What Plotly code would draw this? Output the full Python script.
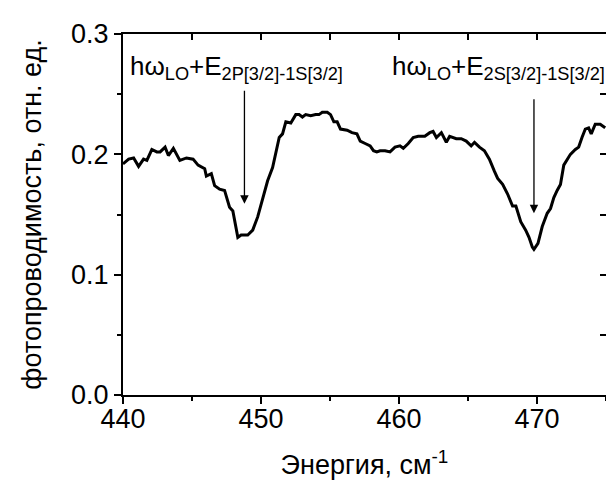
import plotly.graph_objects as go

energy = [440.00, 440.41, 440.77, 441.13, 441.49, 441.73, 442.09, 442.45, 442.69, 443.05,
          443.29, 443.65, 444.12, 444.60, 445.08, 445.44, 445.92, 446.04, 446.40, 446.64,
          447.00, 447.36, 447.72, 447.96, 448.32, 448.56, 449.04, 449.40, 449.76, 450.12,
          450.48, 450.84, 451.32, 451.56, 451.80, 452.16, 452.52, 452.76, 453.00, 453.24,
          453.60, 453.96, 454.20, 454.44, 454.80, 455.04, 455.28, 455.52, 455.76, 456.24,
          456.59, 456.95, 457.19, 457.55, 457.91, 458.15, 458.39, 458.63, 458.99, 459.35,
          459.71, 460.07, 460.31, 460.67, 461.03, 461.39, 461.87, 462.23, 462.47, 462.71,
          463.07, 463.43, 463.67, 464.15, 464.51, 464.87, 465.23, 465.47, 465.83, 466.19,
          466.55, 466.91, 467.15, 467.51, 467.87, 468.23, 468.47, 468.82, 469.18, 469.42,
          469.66, 469.78, 470.07, 470.38, 470.74, 470.98, 471.22, 471.46, 471.70, 471.94,
          472.18, 472.42, 472.78, 473.02, 473.26, 473.50, 473.74, 473.93, 474.22, 474.58,
          474.94]
photocond = [0.192, 0.196, 0.197, 0.190, 0.196, 0.195, 0.204, 0.202, 0.202, 0.206,
             0.199, 0.205, 0.195, 0.197, 0.196, 0.191, 0.188, 0.182, 0.184, 0.174,
             0.171, 0.170, 0.156, 0.153, 0.131, 0.133, 0.133, 0.137, 0.148, 0.162,
             0.178, 0.189, 0.214, 0.217, 0.227, 0.226, 0.233, 0.233, 0.231, 0.233,
             0.232, 0.233, 0.233, 0.235, 0.235, 0.233, 0.227, 0.227, 0.221, 0.220,
             0.218, 0.217, 0.211, 0.209, 0.207, 0.203, 0.202, 0.203, 0.203, 0.202,
             0.206, 0.207, 0.205, 0.209, 0.214, 0.215, 0.215, 0.218, 0.219, 0.214,
             0.218, 0.210, 0.215, 0.213, 0.213, 0.211, 0.207, 0.210, 0.206, 0.203,
             0.196, 0.186, 0.180, 0.175, 0.167, 0.157, 0.157, 0.144, 0.137, 0.131,
             0.123, 0.121, 0.126, 0.140, 0.151, 0.155, 0.164, 0.170, 0.175, 0.191,
             0.196, 0.200, 0.204, 0.206, 0.214, 0.221, 0.222, 0.217, 0.225, 0.225,
             0.222]

x_range = [440, 475]
y_range = [0.0, 0.3]
x_ticks = [440, 450, 460, 470]
y_ticks = [0.0, 0.1, 0.2, 0.3]
y_tick_labels = ["0.0", "0.1", "0.2", "0.3"]
x_inner_ticks = [440, 445, 450, 455, 460, 465, 470, 475]
y_inner_ticks = [0.0, 0.05, 0.1, 0.15, 0.2, 0.25, 0.3]

labels = ["hω<sub>LO</sub>+E<sub>2P[3/2]-1S[3/2]</sub>",
          "hω<sub>LO</sub>+E<sub>2S[3/2]-1S[3/2]</sub>"]
label_x = [440.38, 459.37]
label_y = [0.272, 0.272]
arrow_x = [448.8, 469.78]
arrow_tail_y = [0.254, 0.247]
arrow_tip_y = [0.159, 0.151]

FONT = "Liberation Sans, Arial, sans-serif"
FS = 27

fig = go.Figure()
fig.add_trace(go.Scatter(x=energy, y=photocond, mode="lines",
                         line=dict(color="black", width=3), showlegend=False,
                         hoverinfo="skip"))
# invisible trace that activates the mirrored (inner-tick) axes
fig.add_trace(go.Scatter(x=x_range, y=y_range, xaxis="x2", yaxis="y2", mode="markers",
                         marker=dict(opacity=0), showlegend=False, hoverinfo="skip"))

for t, lx, ly in zip(labels, label_x, label_y):
    fig.add_annotation(x=lx, y=ly, xref="x", yref="y", text=t, showarrow=False,
                       xanchor="left", yanchor="middle",
                       font=dict(family=FONT, size=26, color="black"))
for axx, ty, hy in zip(arrow_x, arrow_tail_y, arrow_tip_y):
    fig.add_annotation(x=axx, y=hy, ax=axx, ay=ty, xref="x", yref="y",
                       axref="x", ayref="y", text="", showarrow=True,
                       arrowhead=2, arrowsize=1.3, arrowwidth=1.3, arrowcolor="black")

axis_common = dict(showline=True, linecolor="black", linewidth=2, showgrid=False,
                   zeroline=False, tickcolor="black", tickwidth=2)

fig.update_layout(
    width=606, height=478,
    margin=dict(l=115, r=6, t=26, b=91),
    paper_bgcolor="white", plot_bgcolor="white",
    font=dict(family=FONT, size=FS, color="black"),
    xaxis=dict(range=x_range, tickvals=x_ticks, ticks="outside", ticklen=7, mirror=True,
               ticklabelstandoff=-8,
               minor=dict(dtick=5, tick0=440, ticks="outside", ticklen=4,
                          tickcolor="black", tickwidth=2),
               title=dict(text="Энергия, см<sup>-1</sup>", font=dict(size=FS), standoff=22),
               tickfont=dict(size=FS), **axis_common),
    yaxis=dict(range=y_range, tickvals=y_ticks, ticktext=y_tick_labels, ticks="outside",
               ticklen=7, mirror=True,
               minor=dict(dtick=0.05, tick0=0, ticks="outside", ticklen=4,
                          tickcolor="black", tickwidth=2),
               title=dict(text="фотопроводимость, отн. ед.", font=dict(size=FS), standoff=22),
               tickfont=dict(size=FS), **axis_common),
    xaxis2=dict(range=x_range, overlaying="x", anchor="y", side="top",
                tickvals=x_inner_ticks, ticks="inside", ticklen=6, showticklabels=False,
                **axis_common),
    yaxis2=dict(range=y_range, overlaying="y", anchor="x", side="right",
                tickvals=y_inner_ticks, ticks="inside", ticklen=6, showticklabels=False,
                **axis_common),
)

fig.write_html("out.html")
